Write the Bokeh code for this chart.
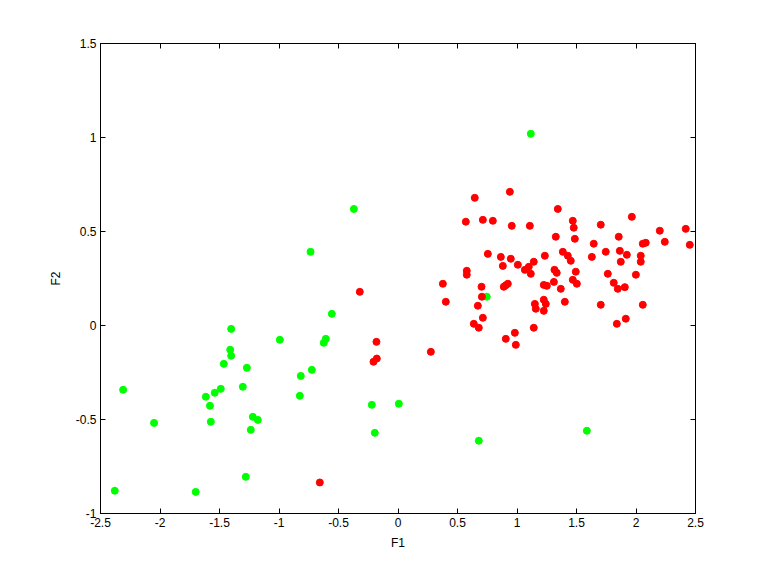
from bokeh.plotting import figure
from bokeh.models import LinearAxis, FixedTicker, Range1d
from bokeh.embed import file_html
from bokeh.resources import INLINE

green_x = [-2.38, -2.31, -2.05, -1.70, -1.615, -1.58, -1.573, -1.54, -1.489, -1.464,
           -1.41, -1.402, -1.402, -1.304, -1.27, -1.279, -1.237, -1.22, -1.178, -0.993,
           -0.825, -0.817, -0.724, -0.624, -0.607, -0.556, -0.220, -0.195, 0.007,
           -0.735, -0.371, 1.116, 0.746, 0.679, 1.587]
green_y = [-0.879, -0.342, -0.518, -0.885, -0.379, -0.427, -0.512, -0.358, -0.337, -0.204,
           -0.129, -0.161, -0.018, -0.326, -0.225, -0.805, -0.555, -0.486, -0.502, -0.076,
           -0.374, -0.268, -0.236, -0.092, -0.071, 0.062, -0.422, -0.571, -0.416,
           0.392, 0.620, 1.020, 0.153, -0.613, -0.560]

red_x = [-0.321, -0.181, -0.206, -0.178, -0.657,
         0.377, 0.570, 0.645, 0.578, 0.578, 0.702, 0.713, 0.755, 0.797, 0.864,
         0.881, 0.889, 0.906, 0.923, 0.940, 0.948, 0.956, 1.007, 1.066, 1.099,
         1.116, 1.141, 1.108, 1.234, 1.225, 1.251, 1.31, 1.315, 1.334, 1.326,
         1.343, 1.368, 1.385, 1.427, 1.452, 1.469, 1.477, 1.486, 1.494, 1.469,
         1.503, 1.629, 1.645, 1.704, 1.746, 1.763, 1.813, 1.847, 1.855, 1.864,
         1.872, 1.906, 1.923, 1.965, 1.999, 2.040, 2.040, 2.057, 2.082, 2.200,
         2.242, 2.418, 2.452,
         0.402, 0.705, 0.671, 0.713, 0.637, 0.679, 0.276, 0.906, 0.982, 0.990,
         1.141, 1.150, 1.158, 1.225, 1.242, 1.225, 1.402, 1.704, 1.839, 1.914, 2.057]
red_y = [0.179, -0.087, -0.193, -0.176, -0.835,
         0.222, 0.552, 0.679, 0.291, 0.270, 0.206, 0.562, 0.381, 0.557, 0.365,
         0.317, 0.206, 0.214, 0.222, 0.711, 0.355, 0.530, 0.323, 0.296, 0.312,
         0.275, 0.339, 0.530, 0.371, 0.216, 0.211, 0.232, 0.296, 0.280, 0.472,
         0.620, 0.195, 0.392, 0.371, 0.344, 0.557, 0.520, 0.461, 0.286, 0.243,
         0.222, 0.365, 0.435, 0.536, 0.392, 0.275, 0.227, 0.195, 0.472, 0.397,
         0.339, 0.204, 0.376, 0.578, 0.270, 0.371, 0.339, 0.435, 0.440, 0.504,
         0.445, 0.514, 0.429,
         0.126, 0.153, 0.105, 0.041, 0.009, -0.012, -0.140, -0.071, -0.039, -0.103,
         -0.012, 0.115, 0.089, 0.137, 0.115, 0.078, 0.126, 0.110, 0.009, 0.036, 0.110]

x_ticks = [-2.5, -2, -1.5, -1, -0.5, 0, 0.5, 1, 1.5, 2, 2.5]
x_tick_labels = ["-2.5", "-2", "-1.5", "-1", "-0.5", "0", "0.5", "1", "1.5", "2", "2.5"]
y_ticks = [-1, -0.5, 0, 0.5, 1, 1.5]
y_tick_labels = ["-1", "-0.5", "0", "0.5", "1", "1.5"]

FONT = "Liberation Sans"

p = figure(width=752, height=560, output_backend="svg", toolbar_location=None,
           x_range=Range1d(-2.5, 2.5), y_range=Range1d(-1, 1.5),
           x_axis_label="F1", y_axis_label="F2",
           min_border_left=100, min_border_right=57, min_border_top=43, min_border_bottom=47)
p.xgrid.visible = False
p.ygrid.visible = False
p.outline_line_color = "black"
p.outline_line_width = 1
p.background_fill_color = "white"
p.border_fill_color = "white"

p.scatter(green_x, green_y, size=7, color="#00ff00", line_color="#00ff00")
p.scatter(red_x, red_y, size=7, color="#ff0000", line_color="#ff0000")

p.add_layout(LinearAxis(), "above")
p.add_layout(LinearAxis(), "right")

for ax in p.xaxis:
    ax.ticker = FixedTicker(ticks=x_ticks)
    ax.major_label_overrides = {t: l for t, l in zip(x_ticks, x_tick_labels)}
for ax in p.yaxis:
    ax.ticker = FixedTicker(ticks=y_ticks)
    ax.major_label_overrides = {t: l for t, l in zip(y_ticks, y_tick_labels)}

for ax in list(p.xaxis) + list(p.yaxis):
    ax.major_tick_in = 5
    ax.major_tick_out = 0
    ax.minor_tick_in = 0
    ax.minor_tick_out = 0
    ax.axis_line_color = "black"
    ax.major_tick_line_color = "black"
    ax.major_label_text_font = FONT
    ax.major_label_text_font_size = "12px"
    ax.major_label_text_color = "black"
    ax.axis_label_text_font = FONT
    ax.axis_label_text_font_size = "12px"
    ax.axis_label_text_font_style = "normal"
    ax.axis_label_text_color = "black"

for ax in (p.above[0], p.right[0]):
    ax.major_label_text_color = None
    ax.major_label_standoff = 0

p.below[0].major_label_standoff = 4
p.below[0].axis_label_standoff = 6
p.left[0].major_label_standoff = 4
p.left[0].axis_label_standoff = 10

open("out.html", "w").write(file_html(p, INLINE))
